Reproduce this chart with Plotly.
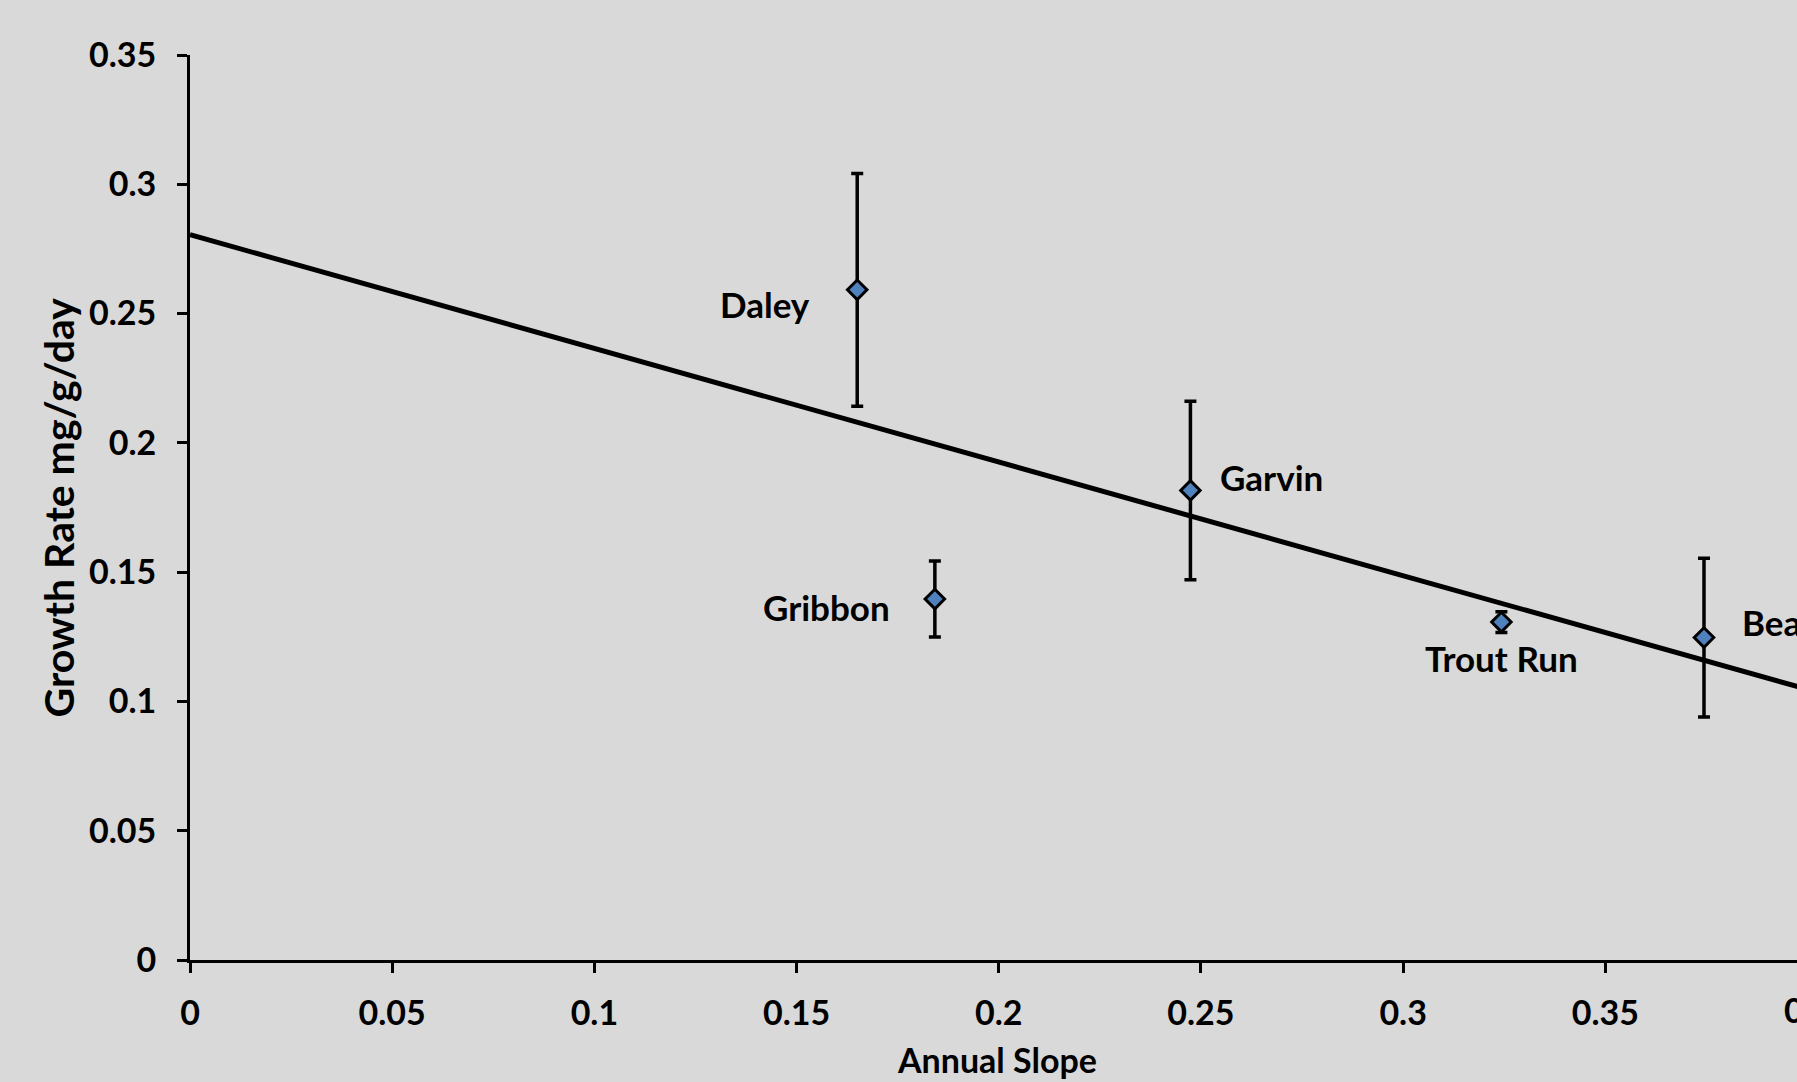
import plotly.graph_objects as go

# ---- data ----
sites = ["Daley", "Gribbon", "Garvin", "Trout Run", "Bear Run"]
annual_slope = [0.1650, 0.1842, 0.2474, 0.3243, 0.3744]
growth_rate = [0.2592, 0.1396, 0.1816, 0.1307, 0.1247]
growth_err = [0.0450, 0.0147, 0.0345, 0.0040, 0.0307]

trend_intercept = 0.2805
trend_slope = -0.4396
trend_x = [0.0, 0.4]

x_ticks = [0, 0.05, 0.1, 0.15, 0.2, 0.25, 0.3, 0.35, 0.4]
y_ticks = [0, 0.05, 0.1, 0.15, 0.2, 0.25, 0.3, 0.35]

# label placement (anchor, xshift, yshift) per site
label_pos = {
    "Daley": ("right", -45, -14),
    "Gribbon": ("right", -43, -8),
    "Garvin": ("left", 28, 13),
    "Trout Run": ("center", 0, -36),
    "Bear Run": ("left", 36, 16),
}

FONT = "Lato"
BG = "#D9D9D9"

fig = go.Figure()

fig.add_trace(go.Scatter(
    x=trend_x,
    y=[trend_intercept + trend_slope * v for v in trend_x],
    mode="lines",
    line=dict(color="black", width=5),
    hoverinfo="skip",
    showlegend=False,
))

fig.add_trace(go.Scatter(
    x=annual_slope,
    y=growth_rate,
    mode="markers",
    marker=dict(symbol="diamond", size=15, color="#4F81BD",
                line=dict(color="black", width=3)),
    error_y=dict(type="data", array=growth_err, visible=True,
                 color="black", thickness=3.5, width=6),
    showlegend=False,
))

label_font = dict(family=FONT, size=35, color="black", weight="bold")

annotations = []
for s, xv, yv in zip(sites, annual_slope, growth_rate):
    anc, xs, ys = label_pos[s]
    annotations.append(dict(
        x=xv, y=yv, xref="x", yref="y", text=s, showarrow=False,
        xanchor=anc, yanchor="middle", xshift=xs, yshift=ys,
        font=label_font,
    ))

axis_font = dict(family=FONT, size=34, color="black", weight="bold")

# partially visible last tick label (chart is cropped on the right)
annotations.append(dict(
    x=1, y=0, xref="paper", yref="paper", text=f"{x_ticks[-1]:g}",
    showarrow=False, xanchor="center", yanchor="middle", xshift=11, yshift=-49,
    font=axis_font,
))

# axis titles
annotations.append(dict(
    x=0.5, y=0, xref="paper", yref="paper", text="Annual Slope",
    showarrow=False, xanchor="center", yanchor="middle", xshift=3, yshift=-99,
    font=dict(family=FONT, size=34, color="black", weight="bold"),
))
annotations.append(dict(
    x=0, y=0.5, xref="paper", yref="paper", text="Growth Rate mg/g/day",
    showarrow=False, xanchor="center", yanchor="middle", xshift=-132,
    textangle=-90,
    font=dict(family=FONT, size=41, color="black", weight="bold"),
))

fig.update_layout(
    width=1797, height=1082,
    margin=dict(l=190, r=0, t=55, b=122),
    paper_bgcolor=BG, plot_bgcolor=BG,
    annotations=annotations,
    xaxis=dict(
        range=[0, 0.3974], tickmode="array", tickvals=x_ticks[:-1],
        ticktext=[f"{v:g}" for v in x_ticks[:-1]],
        showgrid=False, zeroline=False, showline=True, linecolor="black",
        linewidth=3, ticks="outside", ticklen=10, tickwidth=3,
        tickcolor="black", tickfont=axis_font, ticklabelstandoff=11,
    ),
    yaxis=dict(
        range=[0, 0.35], tickmode="array", tickvals=y_ticks,
        ticktext=[f"{v:g}" for v in y_ticks],
        showgrid=False, zeroline=False, showline=True, linecolor="black",
        linewidth=3, ticks="outside", ticklen=10, tickwidth=3,
        tickcolor="black", tickfont=axis_font, ticklabelstandoff=14,
    ),
)

fig.write_html("out.html")
